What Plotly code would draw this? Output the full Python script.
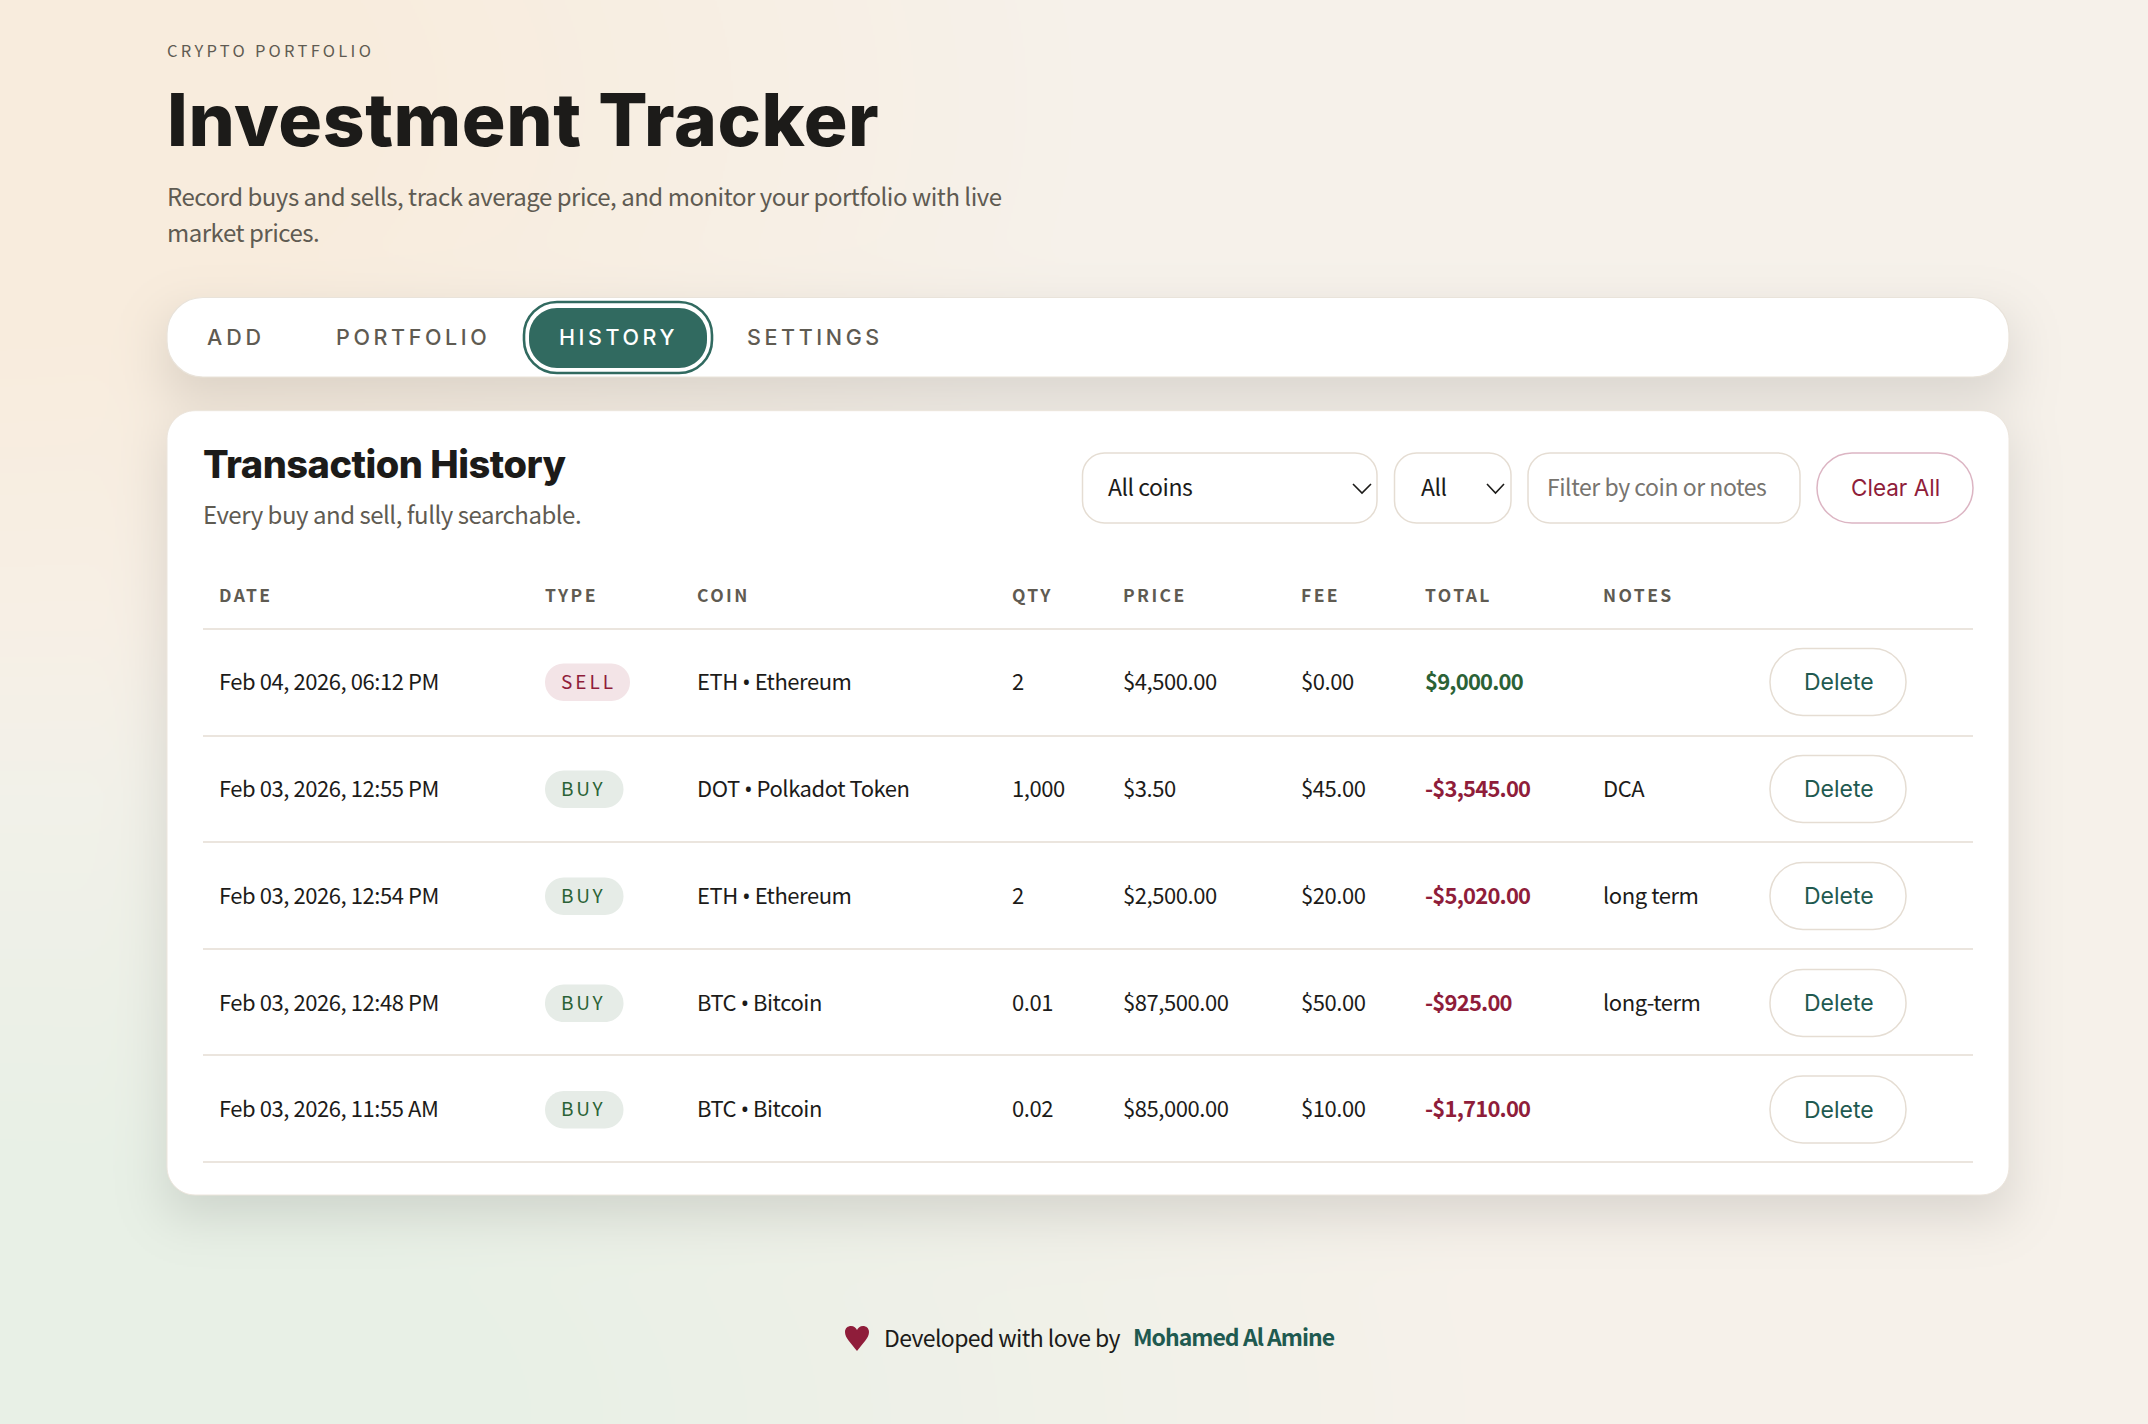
import base64, json, math, struct, zlib
import numpy as np
import plotly.graph_objects as go

W, H = 2148, 1424
BODY = "Noto Sans CJK SC"
HEAD = "Inter"

headers = ["DATE", "TYPE", "COIN", "QTY", "PRICE", "FEE", "TOTAL", "NOTES"]
dates = ["Feb 04, 2026, 06:12 PM", "Feb 03, 2026, 12:55 PM", "Feb 03, 2026, 12:54 PM",
         "Feb 03, 2026, 12:48 PM", "Feb 03, 2026, 11:55 AM"]
types = ["SELL", "BUY", "BUY", "BUY", "BUY"]
coins = ["ETH • Ethereum", "DOT • Polkadot Token", "ETH • Ethereum", "BTC • Bitcoin", "BTC • Bitcoin"]
qtys = ["2", "1,000", "2", "0.01", "0.02"]
prices = ["$4,500.00", "$3.50", "$2,500.00", "$87,500.00", "$85,000.00"]
fees = ["$0.00", "$45.00", "$20.00", "$50.00", "$10.00"]
totals = ["$9,000.00", "-$3,545.00", "-$5,020.00", "-$925.00", "-$1,710.00"]
notes = ["", "DCA", "long term", "long-term", ""]
tabs = ["ADD", "PORTFOLIO", "HISTORY", "SETTINGS"]

col_x = [218.5, 545, 697, 1012, 1122.5, 1300.5, 1425, 1603]
tab_x = [207, 336, 559, 747]
row_y = [682, 789, 896, 1003, 1109.5]
rule_y = [629, 736, 842, 949, 1055, 1162]

INK, MUTED, LINE = "#1c1b19", "#5f5b52", "#e5ddd3"
TEAL, DEEP, RED, GREEN = "#316a60", "#1f5a50", "#8f1d3a", "#2b6236"


def page_background():
    step = 2
    xs = np.arange(0, W, step) + 1.0
    ys = np.arange(0, H, step) + 1.0
    X, Y = np.meshgrid(xs, ys)
    img = np.ones(X.shape + (3,)) * np.array([246, 241, 234], float)

    def wash(cx, cy, rx, ry, color):
        d = np.sqrt(((X - cx) / rx) ** 2 + ((Y - cy) / ry) ** 2)
        a = np.clip((1 - d) / 0.67, 0, 1)[..., None]
        return img * (1 - a) + np.array(color, float) * a

    img = wash(0, 100, 1100, 700, (248, 236, 221))
    img = wash(0, 1424, 1500, 800, (232, 240, 230))

    erf = np.vectorize(math.erf)

    def shadow(x0, y0, x1, y1, sigma, alpha):
        s = sigma * math.sqrt(2)
        fx = 0.5 * (erf((xs - x0) / s) - erf((xs - x1) / s))
        fy = 0.5 * (erf((ys - y0) / s) - erf((ys - y1) / s))
        return 1 - alpha * np.outer(fy, fx)[..., None]

    img = img * shadow(167, 318, 2009, 397, 25, 0.12) * shadow(167, 431, 2009, 1215, 25, 0.12)
    arr = np.clip(img + 0.5, 0, 255).astype(np.uint8)
    raw = b"".join(b"\x00" + row.tobytes() for row in arr)

    def chunk(tag, data):
        return struct.pack(">I", len(data)) + tag + data + struct.pack(">I", zlib.crc32(tag + data))

    png = (b"\x89PNG\r\n\x1a\n"
           + chunk(b"IHDR", struct.pack(">IIBBBBB", arr.shape[1], arr.shape[0], 8, 2, 0, 0, 0))
           + chunk(b"IDAT", zlib.compress(raw, 9)) + chunk(b"IEND", b""))
    return "data:image/png;base64," + base64.b64encode(png).decode()


def rr(x0, y0, x1, y1, r):
    k = r * 0.448
    return (f"M{x0+r},{y0} L{x1-r},{y0} C{x1-k},{y0} {x1},{y0+k} {x1},{y0+r} "
            f"L{x1},{y1-r} C{x1},{y1-k} {x1-k},{y1} {x1-r},{y1} "
            f"L{x0+r},{y1} C{x0+k},{y1} {x0},{y1-k} {x0},{y1-r} "
            f"L{x0},{y0+r} C{x0},{y0+k} {x0+k},{y0} {x0+r},{y0} Z")


shapes, labels = [], []


def box(x0, y0, x1, y1, r, fill="rgba(0,0,0,0)", line=None, w=1.5):
    shapes.append(dict(type="path", path=rr(x0, y0, x1, y1, r), fillcolor=fill,
                       line=dict(color=line or "rgba(0,0,0,0)", width=w if line else 0),
                       xref="x", yref="y", layer="below"))


def txt(x, y, s, size, color, family=BODY, weight=400, align="left"):
    dy = -2.2 if family == BODY else 0
    labels.append(dict(x=x, y=y + dy, text=s, xref="x", yref="y", showarrow=False,
                       xanchor=align, yanchor="middle", align=align, borderpad=0,
                       borderwidth=0, font=dict(family=family, size=size, color=color, weight=weight)))


# tabs bar and card
box(167, 297.5, 2009, 377, 36, "#ffffff", "#e9e3da", 1.2)
box(167, 410.7, 2009, 1195, 28, "#ffffff", "#ece5dc", 1)
box(524, 302, 712, 373, 33, "#ffffff", TEAL, 2.6)
box(529, 308, 707, 368, 28, TEAL)

# header
txt(166.5, 52, "CRYPTO PORTFOLIO", 16.5, MUTED)
txt(167, 119, "Investment Tracker", 73, INK, HEAD, 800)
txt(166.5, 197.5, "Record buys and sells, track average price, and monitor your portfolio with live", 24, MUTED)
txt(166.5, 234, "market prices.", 24, MUTED)

for lab, x in zip(tabs, tab_x):
    txt(x, 337, lab, 21.5, "#ffffff" if lab == "HISTORY" else MUTED, HEAD, 500)

txt(202.5, 464, "Transaction History", 38, INK, HEAD, 800)
txt(202.5, 516, "Every buy and sell, fully searchable.", 24, MUTED)

# controls
box(1082.5, 453, 1377, 523, 22, "#ffffff", LINE)
box(1394.5, 453, 1511, 523, 22, "#ffffff", LINE)
box(1528, 453, 1800, 523, 22, "#ffffff", LINE)
box(1817, 453, 1973, 523, 35, "#ffffff", "#dcb5c3")
txt(1108, 488, "All coins", 23, INK)
txt(1421, 488, "All", 23, INK)
txt(1547, 488, "Filter by coin or notes", 23, "#77746f")
txt(1895, 487, "Clear All", 22.5, RED, HEAD, 400, "center")
for cx0, cx1 in [(1353, 1371), (1487, 1504)]:
    shapes.append(dict(type="path", path=f"M{cx0},484 L{(cx0+cx1)/2},493 L{cx1},484",
                       line=dict(color=INK, width=1.6), xref="x", yref="y"))

# table
for lab, x in zip(headers, col_x):
    txt(x, 597, lab, 17.5, MUTED, BODY, 700)
for y in rule_y:
    shapes.append(dict(type="line", x0=203, x1=1973, y0=y, y1=y, line=dict(color=LINE, width=1.4),
                       xref="x", yref="y", layer="below"))

for i, y in enumerate(row_y):
    sell = types[i] == "SELL"
    txt(col_x[0], y, dates[i], 22, INK)
    box(545, y - 18.5, 630 if sell else 623.5, y + 19, 18.5, "#f3e4e7" if sell else "#e6ece7")
    txt(561, y + 0.5, types[i], 19, RED if sell else GREEN)
    txt(col_x[2], y, coins[i].replace("•", '<span style="font-family:Noto Sans">•</span>'), 22, INK)
    txt(col_x[3], y, qtys[i], 22, INK)
    txt(col_x[4], y, prices[i], 22, INK)
    txt(col_x[5], y, fees[i], 22, INK)
    txt(col_x[6], y, totals[i], 22, GREEN if not totals[i].startswith("-") else RED, BODY, 600)
    if notes[i]:
        txt(col_x[7], y, notes[i], 22, INK)
    box(1770, y - 33.5, 1906, y + 33.5, 33, "#ffffff", LINE)
    txt(1838.5, y, "Delete", 23, DEEP, HEAD, 400, "center")

# footer
shapes.append(dict(type="path", xref="x", yref="y", fillcolor=RED, line=dict(width=0),
                   path="M857,1351 C851,1343 845,1338 845,1332 C845,1328 848,1326 851,1326 "
                        "C854,1326 856,1328 857,1330 C858,1328 860,1326 863,1326 "
                        "C866,1326 869,1328 869,1332 C869,1338 863,1343 857,1351 Z"))
txt(884, 1339, "Developed with love by", 23, INK)
txt(1133, 1338.5, "Mohamed Al Amine", 23, DEEP, BODY, 600)

spacing = {"CRYPTO PORTFOLIO": 3.25, "ADD": 3.9, "PORTFOLIO": 3.6, "HISTORY": 3.6, "SETTINGS": 3.6,
           "SELL": 3.0, "BUY": 2.8, "Investment Tracker": 0.58, "Transaction History": -0.5,
           "Mohamed Al Amine": -1.0, "Developed with love by": -0.6}
for h in headers:
    spacing[h] = 2.4
for t in totals:
    spacing[t] = -0.8

fig = go.Figure()
fig.update_layout(
    width=W, height=H, margin=dict(l=0, r=0, t=0, b=0), showlegend=False,
    paper_bgcolor="#f6f1ea", plot_bgcolor="rgba(0,0,0,0)",
    xaxis=dict(range=[0, W], visible=False, fixedrange=True),
    yaxis=dict(range=[H, 0], visible=False, fixedrange=True),
    shapes=shapes, annotations=labels,
    images=[dict(source=page_background(), xref="paper", yref="paper", x=0, y=1, sizex=1, sizey=1,
                 sizing="stretch", xanchor="left", yanchor="top", layer="below")],
)

post = ("document.body.style.margin='0';document.body.style.overflow='hidden';"
        "var sp=" + json.dumps(spacing) + ";"
        "document.querySelectorAll('.annotation-text').forEach(function(t){"
        "var v=sp[t.textContent];"
        "if(v!==undefined){t.style.letterSpacing=v+'px';}"
        "else if((t.style.fontFamily||'').indexOf('CJK')>=0){t.style.letterSpacing='-0.02em';}});")
fig.write_html("out.html", post_script=post, config=dict(displayModeBar=False, staticPlot=True))
